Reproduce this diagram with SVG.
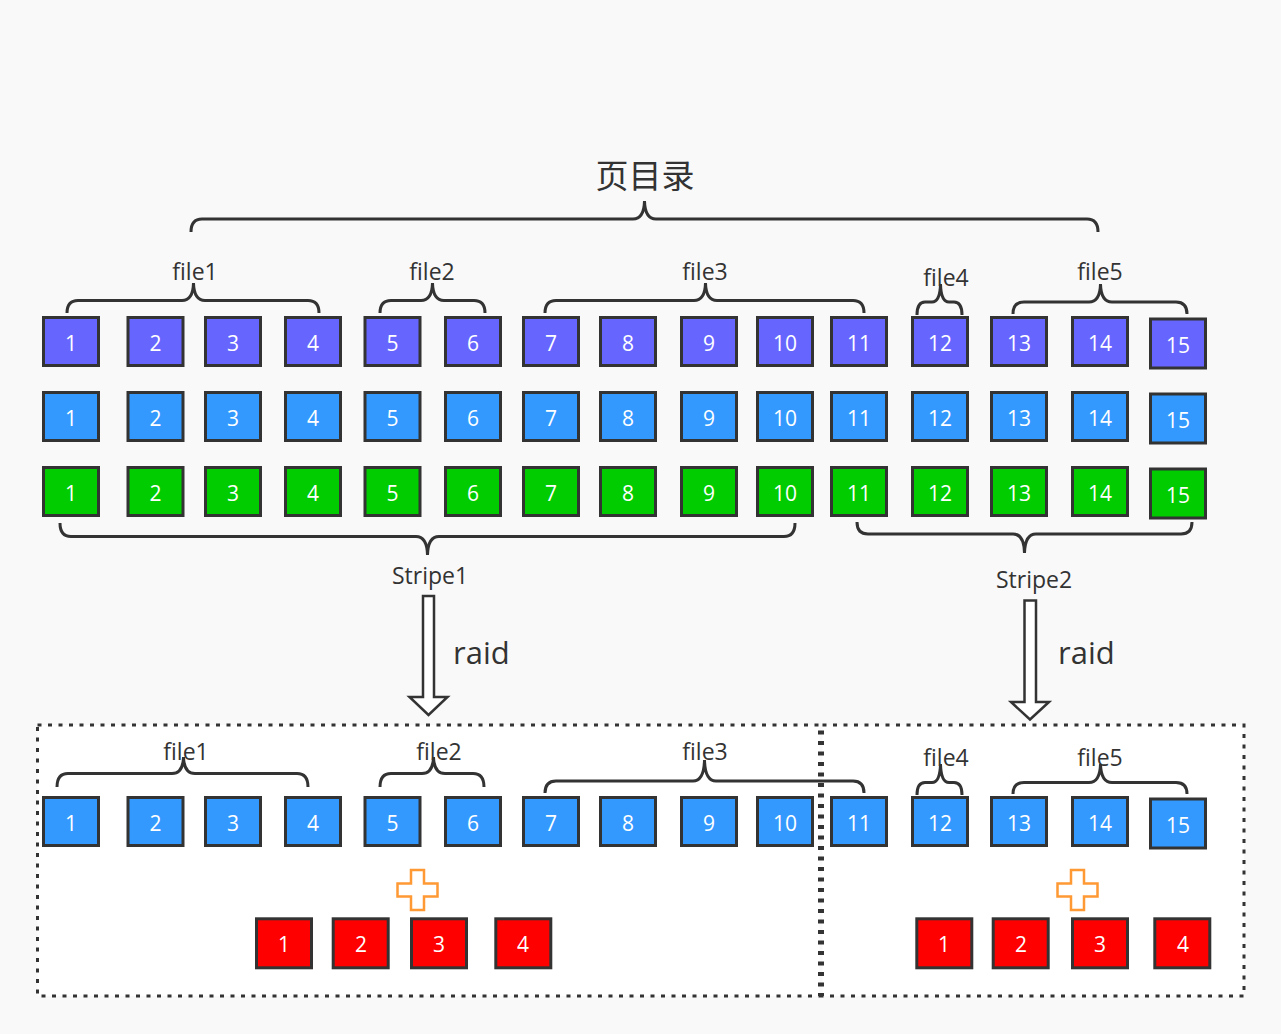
<svg xmlns="http://www.w3.org/2000/svg" width="1281" height="1034" viewBox="0 0 1281 1034">
<style>
.bg{fill:#f9f9f9}
.area{fill:#ffffff;stroke:#333333;stroke-width:3;stroke-dasharray:4 6.5}
.b rect{stroke:#333333;stroke-width:3}
.p rect{fill:#6666ff}
.u rect{fill:#3399ff}
.g rect{fill:#00cc00}
.r rect{fill:#ff0000}
.b text{fill:#ffffff;font-family:"Open Sans","DejaVu Sans",sans-serif;font-size:21px;text-anchor:middle}
.br{fill:none;stroke:#333333;stroke-width:3}
.lbl{fill:#333333;font-family:"Open Sans","DejaVu Sans",sans-serif;font-size:23px;text-anchor:middle}
.big{fill:#333333;font-family:"Open Sans","DejaVu Sans",sans-serif;font-size:31px}
.arr{fill:#ffffff;stroke:#333333;stroke-width:2.5;stroke-linejoin:miter}
.plus{fill:#ffffff;stroke:#ff9933;stroke-width:2.5}
</style>
<rect class="bg" x="0" y="0" width="1281" height="1034"/>
<g id="areas">
<rect id="area1" class="area" x="37.5" y="725" width="782" height="271"/>
<rect id="area2" class="area" x="822.5" y="725" width="421.5" height="271"/>
</g>
<g id="title"><text x="645" y="188" font-family="'Noto Sans CJK SC',sans-serif" font-size="33" fill="#333333" text-anchor="middle">页目录</text></g>
<g id="connectors">
<path class="br" d="M191,232 Q191,219 202,219 H633 Q644,219 644.5,201 Q645,219 656,219 H1087 Q1098,219 1098,232"/>
<path class="br" d="M67,313 Q67,300.5 78,300.5 H182 Q193,300.5 193.5,283 Q194,300.5 205,300.5 H308 Q319,300.5 319,313"/>
<path class="br" d="M380,313 Q380,300.5 391,300.5 H421 Q432,300.5 432.5,283 Q433,300.5 444,300.5 H474 Q485,300.5 485,313"/>
<path class="br" d="M545,313 Q545,300.5 556,300.5 H694 Q705,300.5 705.5,283 Q706,300.5 717,300.5 H853 Q864,300.5 864,313"/>
<path class="br" d="M917,315 Q917,302 925,302 H932 Q940,302 940.5,284 Q941,302 949,302 H954 Q962,302 962,315"/>
<path class="br" d="M1013,314 Q1013,302 1024,302 H1089 Q1100,302 1100.5,284 Q1101,302 1112,302 H1176 Q1187,302 1187,314"/>
<path class="br" d="M60,523 Q60,536.5 71,536.5 H416 Q427,536.5 427.5,555 Q428,536.5 439,536.5 H784 Q795,536.5 795,523"/>
<path class="br" d="M857,522 Q857,534 868,534 H1013 Q1024,534 1024.5,553 Q1025,534 1036,534 H1181 Q1192,534 1192,522"/>
<path class="br" d="M57,787 Q57,773.5 68,773.5 H172 Q183,773.5 183.5,757 Q184,773.5 195,773.5 H297 Q308,773.5 308,787"/>
<path class="br" d="M380,787 Q380,773.5 391,773.5 H422 Q433,773.5 433.5,757 Q434,773.5 445,773.5 H473 Q484,773.5 484,787"/>
<path class="br" d="M545,793 Q545,781 556,781 H693 Q704,781 704.5,760 Q705,781 716,781 H853 Q864,781 864,793"/>
<path class="br" d="M917,795 Q917,782.5 925,782.5 H932 Q940,782.5 940.5,764 Q941,782.5 949,782.5 H954 Q962,782.5 962,795"/>
<path class="br" d="M1013,794 Q1013,782.5 1024,782.5 H1089 Q1100,782.5 1100.5,764 Q1101,782.5 1112,782.5 H1176 Q1187,782.5 1187,794"/>
<path class="arr" d="M423,596 H434 V697 H447.5 L428.5,715 L409.5,697 H423 Z"/>
<path class="arr" d="M1024.5,600.5 H1036 V702 H1049 L1030,719.5 L1011,702 H1024.5 Z"/>
</g>
<g id="labels">
<text class="lbl" x="195" y="280">file1</text>
<text class="lbl" x="432" y="280">file2</text>
<text class="lbl" x="705" y="280">file3</text>
<text class="lbl" x="946" y="286">file4</text>
<text class="lbl" x="1100" y="280">file5</text>
<text class="lbl" x="430" y="584">Stripe1</text>
<text class="lbl" x="1034" y="588">Stripe2</text>
<text class="big" x="453" y="664">raid</text>
<text class="big" x="1058" y="664">raid</text>
<text class="lbl" x="186" y="760">file1</text>
<text class="lbl" x="439" y="760">file2</text>
<text class="lbl" x="705" y="760">file3</text>
<text class="lbl" x="946" y="766">file4</text>
<text class="lbl" x="1100" y="766">file5</text>
</g>
<g id="row1" class="b p">
<g id="r1b1"><rect x="43.5" y="317.5" width="55" height="48"/><text x="71" y="351">1</text></g>
<g id="r1b2"><rect x="128" y="317.5" width="55" height="48"/><text x="155.5" y="351">2</text></g>
<g id="r1b3"><rect x="205.5" y="317.5" width="55" height="48"/><text x="233" y="351">3</text></g>
<g id="r1b4"><rect x="285.5" y="317.5" width="55" height="48"/><text x="313" y="351">4</text></g>
<g id="r1b5"><rect x="365" y="317.5" width="55" height="48"/><text x="392.5" y="351">5</text></g>
<g id="r1b6"><rect x="445.5" y="317.5" width="55" height="48"/><text x="473" y="351">6</text></g>
<g id="r1b7"><rect x="523.5" y="317.5" width="55" height="48"/><text x="551" y="351">7</text></g>
<g id="r1b8"><rect x="600.5" y="317.5" width="55" height="48"/><text x="628" y="351">8</text></g>
<g id="r1b9"><rect x="681.5" y="317.5" width="55" height="48"/><text x="709" y="351">9</text></g>
<g id="r1b10"><rect x="757.5" y="317.5" width="55" height="48"/><text x="785" y="351">10</text></g>
<g id="r1b11"><rect x="831.5" y="317.5" width="55" height="48"/><text x="859" y="351">11</text></g>
<g id="r1b12"><rect x="912.5" y="317.5" width="55" height="48"/><text x="940" y="351">12</text></g>
<g id="r1b13"><rect x="991.5" y="317.5" width="55" height="48"/><text x="1019" y="351">13</text></g>
<g id="r1b14"><rect x="1072.5" y="317.5" width="55" height="48"/><text x="1100" y="351">14</text></g>
<g id="r1b15"><rect x="1150.5" y="319" width="55" height="49"/><text x="1178" y="353">15</text></g>
</g>
<g id="row2" class="b u">
<g id="r2b1"><rect x="43.5" y="392.5" width="55" height="48"/><text x="71" y="426">1</text></g>
<g id="r2b2"><rect x="128" y="392.5" width="55" height="48"/><text x="155.5" y="426">2</text></g>
<g id="r2b3"><rect x="205.5" y="392.5" width="55" height="48"/><text x="233" y="426">3</text></g>
<g id="r2b4"><rect x="285.5" y="392.5" width="55" height="48"/><text x="313" y="426">4</text></g>
<g id="r2b5"><rect x="365" y="392.5" width="55" height="48"/><text x="392.5" y="426">5</text></g>
<g id="r2b6"><rect x="445.5" y="392.5" width="55" height="48"/><text x="473" y="426">6</text></g>
<g id="r2b7"><rect x="523.5" y="392.5" width="55" height="48"/><text x="551" y="426">7</text></g>
<g id="r2b8"><rect x="600.5" y="392.5" width="55" height="48"/><text x="628" y="426">8</text></g>
<g id="r2b9"><rect x="681.5" y="392.5" width="55" height="48"/><text x="709" y="426">9</text></g>
<g id="r2b10"><rect x="757.5" y="392.5" width="55" height="48"/><text x="785" y="426">10</text></g>
<g id="r2b11"><rect x="831.5" y="392.5" width="55" height="48"/><text x="859" y="426">11</text></g>
<g id="r2b12"><rect x="912.5" y="392.5" width="55" height="48"/><text x="940" y="426">12</text></g>
<g id="r2b13"><rect x="991.5" y="392.5" width="55" height="48"/><text x="1019" y="426">13</text></g>
<g id="r2b14"><rect x="1072.5" y="392.5" width="55" height="48"/><text x="1100" y="426">14</text></g>
<g id="r2b15"><rect x="1150.5" y="394" width="55" height="49"/><text x="1178" y="428">15</text></g>
</g>
<g id="row3" class="b g">
<g id="r3b1"><rect x="43.5" y="467.5" width="55" height="48"/><text x="71" y="501">1</text></g>
<g id="r3b2"><rect x="128" y="467.5" width="55" height="48"/><text x="155.5" y="501">2</text></g>
<g id="r3b3"><rect x="205.5" y="467.5" width="55" height="48"/><text x="233" y="501">3</text></g>
<g id="r3b4"><rect x="285.5" y="467.5" width="55" height="48"/><text x="313" y="501">4</text></g>
<g id="r3b5"><rect x="365" y="467.5" width="55" height="48"/><text x="392.5" y="501">5</text></g>
<g id="r3b6"><rect x="445.5" y="467.5" width="55" height="48"/><text x="473" y="501">6</text></g>
<g id="r3b7"><rect x="523.5" y="467.5" width="55" height="48"/><text x="551" y="501">7</text></g>
<g id="r3b8"><rect x="600.5" y="467.5" width="55" height="48"/><text x="628" y="501">8</text></g>
<g id="r3b9"><rect x="681.5" y="467.5" width="55" height="48"/><text x="709" y="501">9</text></g>
<g id="r3b10"><rect x="757.5" y="467.5" width="55" height="48"/><text x="785" y="501">10</text></g>
<g id="r3b11"><rect x="831.5" y="467.5" width="55" height="48"/><text x="859" y="501">11</text></g>
<g id="r3b12"><rect x="912.5" y="467.5" width="55" height="48"/><text x="940" y="501">12</text></g>
<g id="r3b13"><rect x="991.5" y="467.5" width="55" height="48"/><text x="1019" y="501">13</text></g>
<g id="r3b14"><rect x="1072.5" y="467.5" width="55" height="48"/><text x="1100" y="501">14</text></g>
<g id="r3b15"><rect x="1150.5" y="469" width="55" height="49"/><text x="1178" y="503">15</text></g>
</g>
<g id="row4" class="b u">
<g id="r4b1"><rect x="43.5" y="797.5" width="55" height="48"/><text x="71" y="831">1</text></g>
<g id="r4b2"><rect x="128" y="797.5" width="55" height="48"/><text x="155.5" y="831">2</text></g>
<g id="r4b3"><rect x="205.5" y="797.5" width="55" height="48"/><text x="233" y="831">3</text></g>
<g id="r4b4"><rect x="285.5" y="797.5" width="55" height="48"/><text x="313" y="831">4</text></g>
<g id="r4b5"><rect x="365" y="797.5" width="55" height="48"/><text x="392.5" y="831">5</text></g>
<g id="r4b6"><rect x="445.5" y="797.5" width="55" height="48"/><text x="473" y="831">6</text></g>
<g id="r4b7"><rect x="523.5" y="797.5" width="55" height="48"/><text x="551" y="831">7</text></g>
<g id="r4b8"><rect x="600.5" y="797.5" width="55" height="48"/><text x="628" y="831">8</text></g>
<g id="r4b9"><rect x="681.5" y="797.5" width="55" height="48"/><text x="709" y="831">9</text></g>
<g id="r4b10"><rect x="757.5" y="797.5" width="55" height="48"/><text x="785" y="831">10</text></g>
<g id="r4b11"><rect x="831.5" y="797.5" width="55" height="48"/><text x="859" y="831">11</text></g>
<g id="r4b12"><rect x="912.5" y="797.5" width="55" height="48"/><text x="940" y="831">12</text></g>
<g id="r4b13"><rect x="991.5" y="797.5" width="55" height="48"/><text x="1019" y="831">13</text></g>
<g id="r4b14"><rect x="1072.5" y="797.5" width="55" height="48"/><text x="1100" y="831">14</text></g>
<g id="r4b15"><rect x="1150.5" y="799" width="55" height="49"/><text x="1178" y="833">15</text></g>
</g>
<g id="parity1" class="b r">
<g id="p1b1"><rect x="256.5" y="918.8" width="55" height="49"/><text x="284" y="952">1</text></g>
<g id="p1b2"><rect x="333.2" y="918.8" width="55" height="49"/><text x="361" y="952">2</text></g>
<g id="p1b3"><rect x="411.5" y="918.8" width="55" height="49"/><text x="439" y="952">3</text></g>
<g id="p1b4"><rect x="495.8" y="918.8" width="55" height="49"/><text x="523" y="952">4</text></g>
</g>
<g id="parity2" class="b r">
<g id="p2b1"><rect x="916.8" y="918.8" width="55" height="49"/><text x="944" y="952">1</text></g>
<g id="p2b2"><rect x="993.2" y="918.8" width="55" height="49"/><text x="1021" y="952">2</text></g>
<g id="p2b3"><rect x="1072.5" y="918.8" width="55" height="49"/><text x="1100" y="952">3</text></g>
<g id="p2b4"><rect x="1154.8" y="918.8" width="55" height="49"/><text x="1183" y="952">4</text></g>
</g>
<g id="plus1"><path class="plus" d="M411,870 H424 V883.5 H437.5 V896.5 H424 V910 H411 V896.5 H397.5 V883.5 H411 Z"/></g>
<g id="plus2"><path class="plus" d="M1071,870 H1084 V883.5 H1097.5 V896.5 H1084 V910 H1071 V896.5 H1057.5 V883.5 H1071 Z"/></g>
</svg>
